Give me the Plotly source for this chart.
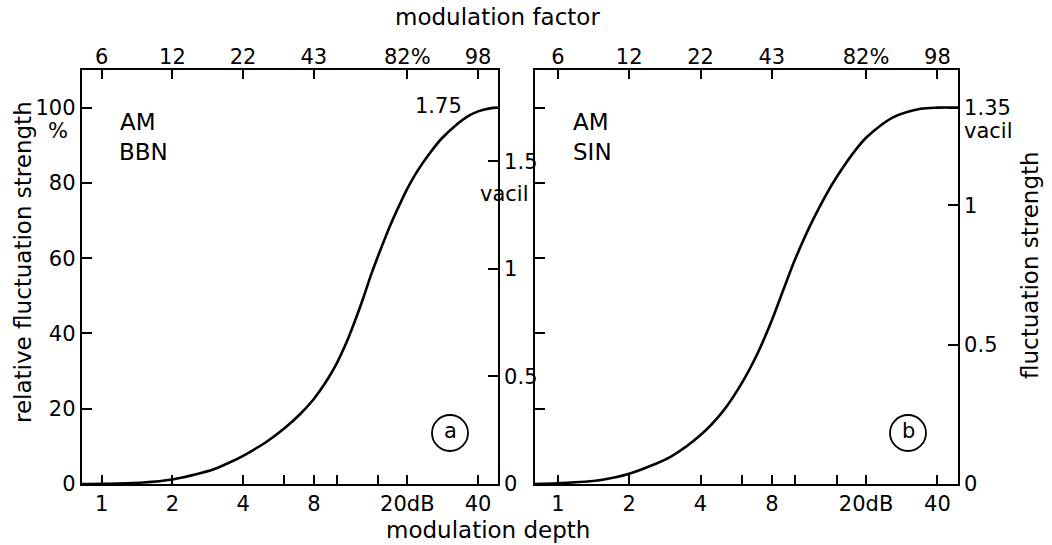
import plotly.graph_objects as go

# ---------------- data ----------------
# panel a: AM broadband noise  (modulation depth in dB -> relative fluctuation strength in %)
depth_a = [0.82, 1.0, 1.5, 2.0, 2.5, 3.0, 3.5, 4.0, 5.0, 6.0, 7.0, 8.0, 9.0, 10.0, 11.0,
           12.0, 13.0, 14.0, 15.0, 16.0, 17.0, 18.0, 20.0, 22.0, 25.0, 28.0, 32.0, 36.0,
           40.0, 45.0, 48.6]
fs_a = [0, 0.05, 0.4, 1.2, 2.5, 3.9, 5.7, 7.5, 11.1, 14.8, 18.6, 22.6, 27.1, 32.0, 37.5,
        43.5, 49.5, 55.5, 60.5, 65.0, 69.0, 72.5, 78.5, 83.0, 88.0, 91.8, 95.2, 97.6,
        99.0, 99.8, 100]
# panel b: AM sine tone
depth_b = [0.8, 1.0, 1.5, 2.0, 3.0, 4.0, 5.0, 6.0, 7.0, 8.0, 9.0, 10.0, 12.0, 15.0,
           20.0, 26.0, 34.0, 40.0, 48.9]
fs_b = [0, 0.2, 1.0, 2.7, 7.3, 13.0, 19.5, 27.0, 35.0, 43.5, 52.0, 59.5, 70.5, 81.5,
        92.0, 97.4, 99.7, 100, 100]

vacil_max_a = 1.75
vacil_max_b = 1.35

depth_ticks = [1, 2, 4, 6, 8, 10, 15, 20, 40]
depth_labels = ["1", "2", "4", "", "8", "", "", "20dB", "40"]
factor_ticks = [1, 2, 4, 8, 20, 40]
factor_labels = ["6", "12", "22", "43", "82%", "98"]
pct_ticks = [0, 20, 40, 60, 80, 100]
vacil_ticks_a = [0, 0.5, 1, 1.5]
vacil_labels_a = ["0", "0.5", "1", "1.5"]
vacil_ticks_b = [0, 0.5, 1, 1.35]
vacil_labels_b = ["0", "0.5", "1", "1.35"]

# ---------------- layout helpers ----------------
W, H = 1052, 545
TICKFONT = dict(family="DejaVu Sans", size=21, color="black")
FONT = dict(family="DejaVu Sans", size=23, color="black")


def px(x):
    return x / W


def py(y):
    return 1 - y / H


Y_TOP = 110
ydom = [py(484), py(70)]
xdom_a = [px(81.7), px(498)]
xdom_b = [px(534.7), px(958)]
xr_a = [-0.085, 1.687]
xr_b = [-0.098, 1.689]

fig = go.Figure()
fig.add_trace(go.Scatter(x=depth_a, y=fs_a, mode="lines", xaxis="x", yaxis="y",
                         line=dict(color="black", width=2.6, shape="spline", smoothing=0.8),
                         showlegend=False, hoverinfo="skip"))
fig.add_trace(go.Scatter(x=depth_b, y=fs_b, mode="lines", xaxis="x3", yaxis="y3",
                         line=dict(color="black", width=2.6, shape="spline", smoothing=0.8),
                         showlegend=False, hoverinfo="skip"))

axis_common = dict(showline=True, linecolor="black", linewidth=1.8, ticks="inside",
                   tickcolor="black", tickwidth=1.6, showgrid=False, zeroline=False,
                   tickfont=TICKFONT, fixedrange=True, automargin=False)

fig.update_layout(
    template="none",
    width=W, height=H, autosize=False,
    margin=dict(l=0, r=0, t=0, b=0, pad=0, autoexpand=False),
    paper_bgcolor="white", plot_bgcolor="white",
    font=FONT,
    # panel a
    xaxis=dict(axis_common, domain=xdom_a, anchor="y", type="log", range=xr_a,
               tickmode="array", tickvals=depth_ticks, ticktext=depth_labels, ticklen=9),
    xaxis2=dict(axis_common, domain=xdom_a, anchor="y", overlaying="x", side="top",
                type="log", range=xr_a, tickmode="array", tickvals=factor_ticks,
                ticktext=factor_labels, ticklen=9, ticklabelstandoff=-4),
    yaxis=dict(axis_common, domain=ydom, anchor="x", range=[0, Y_TOP],
               tickmode="array", tickvals=pct_ticks, ticklen=10),
    yaxis2=dict(axis_common, domain=ydom, anchor="x", overlaying="y", side="right",
                range=[0, Y_TOP * vacil_max_a / 100], tickmode="array",
                tickvals=vacil_ticks_a, ticktext=vacil_labels_a, ticklen=10),
    # panel b
    xaxis3=dict(axis_common, domain=xdom_b, anchor="y3", type="log", range=xr_b,
                tickmode="array", tickvals=depth_ticks, ticktext=depth_labels, ticklen=9),
    xaxis4=dict(axis_common, domain=xdom_b, anchor="y3", overlaying="x3", side="top",
                type="log", range=xr_b, tickmode="array", tickvals=factor_ticks,
                ticktext=factor_labels, ticklen=9, ticklabelstandoff=-4),
    yaxis3=dict(axis_common, domain=ydom, anchor="x3", range=[0, Y_TOP],
                tickmode="array", tickvals=pct_ticks, showticklabels=False, ticklen=10),
    yaxis4=dict(axis_common, domain=ydom, anchor="x3", overlaying="y3", side="right",
                range=[0, Y_TOP * vacil_max_b / 100], tickmode="array",
                tickvals=vacil_ticks_b, ticktext=vacil_labels_b, ticklen=10),
)

# invisible traces so the secondary axes are drawn
fig.add_trace(go.Scatter(x=[None], y=[None], xaxis="x2", yaxis="y2", showlegend=False))
fig.add_trace(go.Scatter(x=[None], y=[None], xaxis="x4", yaxis="y4", showlegend=False))


def text(s, x, y, xanchor="center", yanchor="middle", angle=0, font=FONT):
    fig.add_annotation(text=s, x=px(x), y=py(y), xref="paper", yref="paper",
                       xanchor=xanchor, yanchor=yanchor, textangle=angle,
                       showarrow=False, font=font)


text("modulation factor", 497, 17)
text("modulation depth", 488, 530)
text("relative fluctuation strength", 23, 262, angle=-90)
text("fluctuation strength", 1030, 265, angle=-90)
text("%", 58, 131, font=TICKFONT)
text("AM", 118, 122, xanchor="left")
text("BBN", 117, 152, xanchor="left")
text("AM", 571, 122, xanchor="left")
text("SIN", 571, 152, xanchor="left")
text("1.75", 464, 106, xanchor="right", font=TICKFONT)
text("vacil", 478, 194, xanchor="left", font=TICKFONT)
text("vacil", 962, 131, xanchor="left", font=TICKFONT)
text("a", 450, 431, font=TICKFONT)
text("b", 908, 431, font=TICKFONT)

for cx, cy in [(450, 433), (908, 433)]:
    r = 18
    fig.add_shape(type="circle", xref="paper", yref="paper",
                  x0=px(cx - r), x1=px(cx + r), y0=py(cy + r), y1=py(cy - r),
                  line=dict(color="black", width=1.8))

fig.write_html("out.html")
